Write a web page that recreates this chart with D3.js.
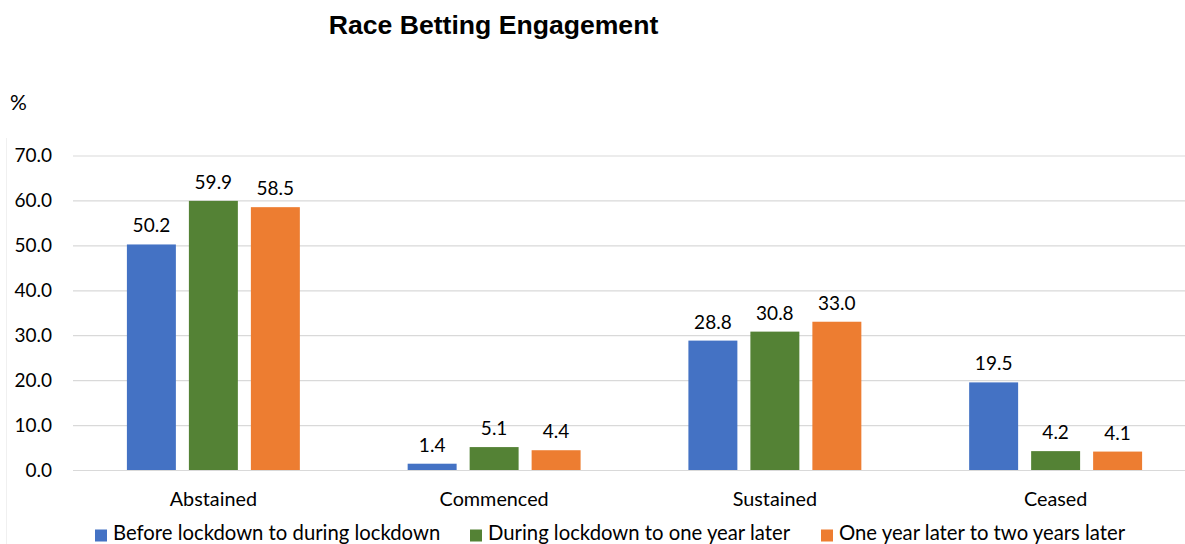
<!DOCTYPE html>
<html>
<head>
<meta charset="utf-8">
<script src="https://cdn.jsdelivr.net/npm/d3@7"></script>
<style>
  html, body { margin: 0; padding: 0; background: #ffffff; }
  svg { display: block; }
  text { font-family: "Lato", "Open Sans", sans-serif; fill: #000; }
</style>
</head>
<body>
<svg id="chart" width="1185" height="544"></svg>
<script>
// Categories and series
const categories = ["Abstained", "Commenced", "Sustained", "Ceased"];
const seriesNames = [
  "Before lockdown to during lockdown",
  "During lockdown to one year later",
  "One year later to two years later"
];
const beforeToDuring = [50.2, 1.4, 28.8, 19.5];
const duringToOneYear = [59.9, 5.1, 30.8, 4.2];
const oneYearToTwoYears = [58.5, 4.4, 33.0, 4.1];
const yTicks = [0, 10, 20, 30, 40, 50, 60, 70];
const seriesColors = ["#4472C4", "#548235", "#ED7D31"];

const seriesValues = [beforeToDuring, duringToOneYear, oneYearToTwoYears];

const svg = d3.select("#chart");
const W = 1185;

const plotLeft = 73, plotRight = 1196, plotTop = 155.5, plotBottom = 470;

const y = d3.scaleLinear().domain([0, 70]).range([plotBottom, plotTop]);
const x0 = d3.scaleBand()
  .domain(categories)
  .range([plotLeft, plotRight])
  .paddingInner(0.384)
  .paddingOuter(0.192);
const x1 = d3.scaleBand()
  .domain(d3.range(seriesNames.length))
  .range([0, x0.bandwidth()])
  .paddingInner(0.21)
  .paddingOuter(0);

// faint frame edge on the left
svg.append("line")
  .attr("x1", 6.5).attr("x2", 6.5)
  .attr("y1", 138).attr("y2", 544)
  .attr("stroke", "#f0f0f0").attr("stroke-width", 1);

// Title
svg.append("text")
  .attr("x", 493.5).attr("y", 34)
  .attr("text-anchor", "middle")
  .style("font-family", "'Liberation Sans', Arial, sans-serif")
  .style("font-weight", "bold")
  .style("font-size", "26.6px")
  .text("Race Betting Engagement");

// Unit label
svg.append("text")
  .attr("x", 10).attr("y", 110)
  .style("font-size", "21px")
  .text("%");

// Gridlines + y axis labels
const yAxis = d3.axisLeft(y)
  .tickValues(yTicks)
  .tickFormat(d3.format(".1f"))
  .tickSize(-(W - plotLeft))
  .tickPadding(21);

const gy = svg.append("g")
  .attr("transform", `translate(${plotLeft},0)`)
  .call(yAxis);
gy.select(".domain").remove();
gy.selectAll(".tick line")
  .attr("stroke", "#d9d9d9")
  .attr("stroke-width", 1.2);
gy.selectAll(".tick text")
  .style("font-family", "'Lato', sans-serif")
  .style("font-size", "19px")
  .attr("fill", "#000");

// Bars
const groups = svg.append("g").selectAll("g")
  .data(categories)
  .join("g")
  .attr("transform", d => `translate(${x0(d)},0)`);

groups.selectAll("rect")
  .data((c, ci) => seriesValues.map((vals, si) => ({ si, v: vals[ci] })))
  .join("rect")
  .attr("x", d => x1(d.si))
  .attr("width", x1.bandwidth())
  .attr("y", d => y(d.v))
  .attr("height", d => y(0) - y(d.v))
  .attr("fill", d => seriesColors[d.si]);

// Value labels
groups.selectAll("text.val")
  .data((c, ci) => seriesValues.map((vals, si) => ({ si, v: vals[ci] })))
  .join("text")
  .attr("class", "val")
  .attr("x", d => x1(d.si) + x1.bandwidth() / 2)
  .attr("y", d => y(d.v) - 12)
  .attr("text-anchor", "middle")
  .style("font-size", "19px")
  .text(d => d3.format(".1f")(d.v));

// Category axis labels
const xAxis = d3.axisBottom(x0).tickSize(0).tickPadding(0);
const gx = svg.append("g")
  .attr("transform", `translate(0,${plotBottom})`)
  .call(xAxis);
gx.select(".domain").remove();
gx.selectAll(".tick text")
  .attr("dy", null)
  .attr("y", 36)
  .style("font-family", "'Lato', sans-serif")
  .style("font-size", "19.8px")
  .attr("fill", "#000");

// Legend
const legendX = [95, 470, 821];
const legend = svg.append("g").selectAll("g")
  .data(seriesNames)
  .join("g")
  .attr("transform", (d, i) => `translate(${legendX[i]},0)`);
legend.append("rect")
  .attr("x", 0).attr("y", 529.5)
  .attr("width", 12).attr("height", 12)
  .attr("fill", (d, i) => seriesColors[i]);
legend.append("text")
  .attr("x", 18).attr("y", 540)
  .style("font-size", "20.3px")
  .text(d => d);
</script>
</body>
</html>
